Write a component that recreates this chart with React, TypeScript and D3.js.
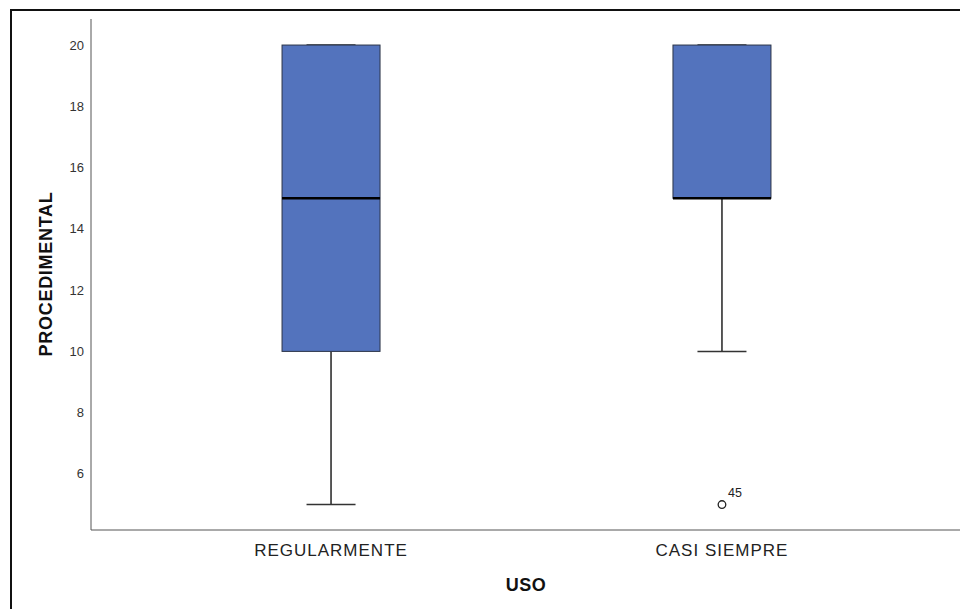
import React from "react";
import * as d3 from "d3";

// Groups and five-number summaries of PROCEDIMENTAL by USO
const categories = ["REGULARMENTE", "CASI SIEMPRE"];
const whiskerLow = [5, 10];
const q1 = [10, 15];
const median = [15, 15];
const q3 = [20, 20];
const whiskerHigh = [20, 20];
// Outliers: [group index, value, case label]
const outliers: [number, number, string][] = [[1, 5, "45"]];
const yTicks = [6, 8, 10, 12, 14, 16, 18, 20];

const W = 960;
const H = 609;
const FONT = "Arial, 'Liberation Sans', sans-serif";

export default function App() {
  const left = 91;
  const right = 962;
  const top = 19;
  const bottom = 530;

  const y = d3.scaleLinear().domain([4.17, 20.85]).range([bottom, top]);
  const x = d3.scalePoint<string>().domain(categories).range([left, right]).padding(0.614);

  const boxW = 98;
  const capW = 49;
  const boxFill = "#5373bd";

  return (
    <svg
      width={W}
      height={H}
      style={{ position: "absolute", left: 0, top: 0, background: "#fff" }}
      fontFamily={FONT}
    >
      {/* outer frame */}
      <rect x={11} y={10} width={W} height={H} fill="none" stroke="#111" strokeWidth={2} />

      {/* axes */}
      <line x1={left} x2={left} y1={top} y2={bottom} stroke="#555" strokeWidth={1} />
      <line x1={left} x2={right} y1={bottom} y2={bottom} stroke="#555" strokeWidth={1} />

      {yTicks.map((t) => (
        <text key={t} x={84} y={y(t)} dy="0.35em" textAnchor="end" fontSize={13} fill="#333">
          {t}
        </text>
      ))}

      {categories.map((c, i) => {
        const cx = x(c)!;
        return (
          <g key={c}>
            {/* whiskers */}
            <line x1={cx} x2={cx} y1={y(whiskerLow[i])} y2={y(q1[i])} stroke="#222" strokeWidth={1.5} />
            <line x1={cx} x2={cx} y1={y(q3[i])} y2={y(whiskerHigh[i])} stroke="#222" strokeWidth={1.5} />
            <line x1={cx - capW / 2} x2={cx + capW / 2} y1={y(whiskerLow[i])} y2={y(whiskerLow[i])} stroke="#333" strokeWidth={1.5} />
            <line x1={cx - capW / 2} x2={cx + capW / 2} y1={y(whiskerHigh[i])} y2={y(whiskerHigh[i])} stroke="#333" strokeWidth={1.5} />
            {/* box */}
            <rect
              x={cx - boxW / 2}
              y={y(q3[i])}
              width={boxW}
              height={y(q1[i]) - y(q3[i])}
              fill={boxFill}
              stroke="#2b3447"
              strokeWidth={1}
            />
            {/* median */}
            <line x1={cx - boxW / 2} x2={cx + boxW / 2} y1={y(median[i])} y2={y(median[i])} stroke="#000" strokeWidth={2.5} />
            <text x={cx} y={556} textAnchor="middle" fontSize={17} letterSpacing={1} fill="#222">
              {c}
            </text>
          </g>
        );
      })}

      {outliers.map(([gi, v, label]) => {
        const cx = x(categories[gi])!;
        return (
          <g key={label}>
            <circle cx={cx} cy={y(v)} r={3.8} fill="none" stroke="#222" strokeWidth={1.3} />
            <text x={cx + 6} y={y(v) - 8} fontSize={12.5} fill="#222">
              {label}
            </text>
          </g>
        );
      })}

      {/* axis titles */}
      <text x={526} y={591} textAnchor="middle" fontSize={18} letterSpacing={0.5} fontWeight="bold" fill="#111">
        USO
      </text>
      <text
        transform={`translate(52, 274) rotate(-90)`}
        textAnchor="middle"
        fontSize={18}
        letterSpacing={0.7}
        fontWeight="bold"
        fill="#111"
      >
        PROCEDIMENTAL
      </text>
    </svg>
  );
}
